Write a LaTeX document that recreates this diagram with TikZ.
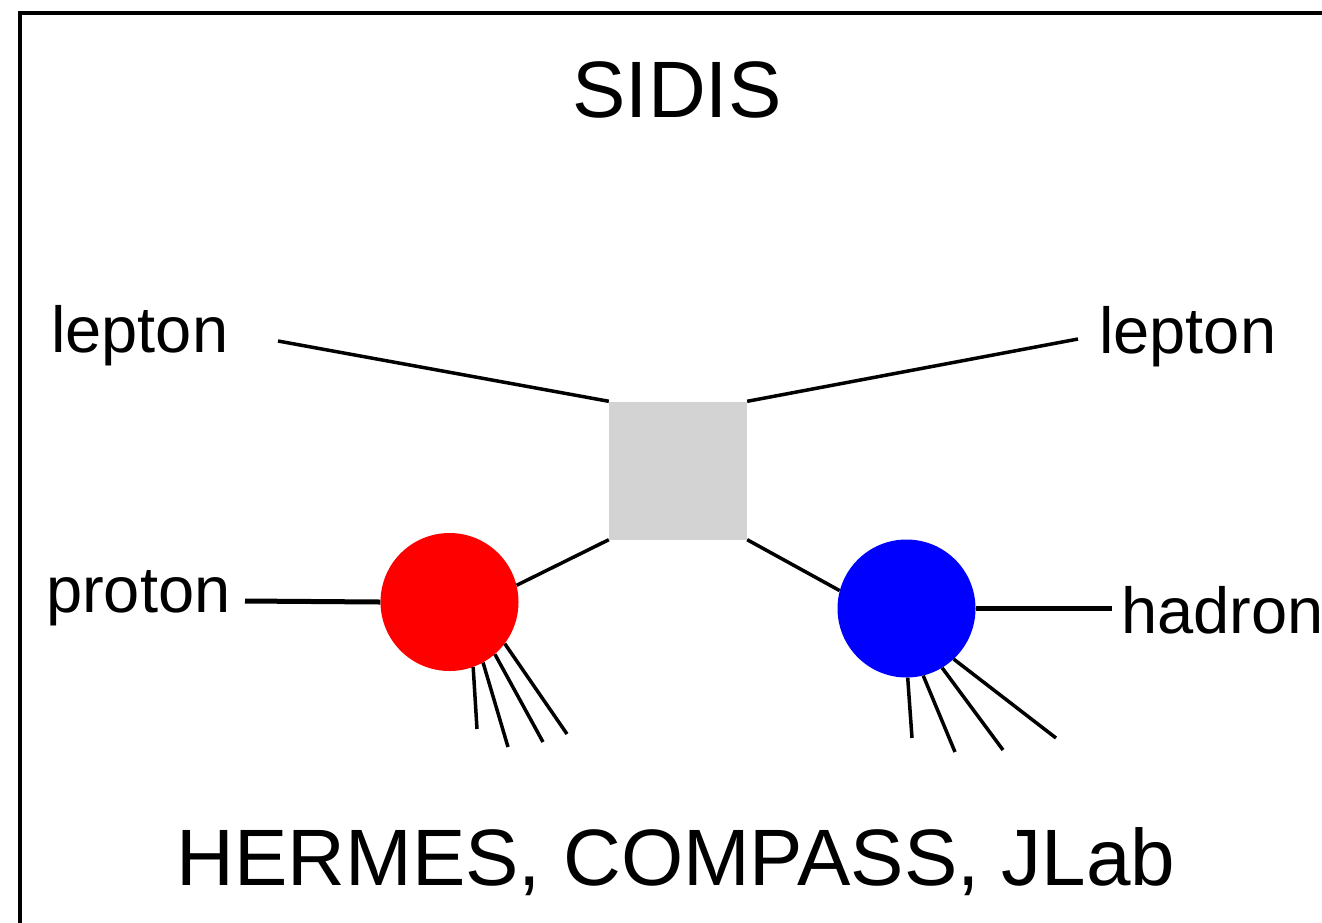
\documentclass[tikz,border=0pt]{standalone}
\usepackage{fontspec}
\setmainfont{Liberation Sans}
\definecolor{blobgray}{RGB}{211,211,211}
\begin{document}
\begin{tikzpicture}[x=1pt,y=-1pt,
  label/.style={inner sep=0pt,font=\fontsize{65}{65}\selectfont},
  title/.style={inner sep=0pt,font=\fontsize{80}{80}\selectfont},
  leg/.style={line width=3.5pt},
  beam/.style={line width=5pt},
  jet/.style={line width=3.5pt},
  vertex/.style={rectangle,fill=blobgray,inner sep=0pt,minimum size=138pt},
  hadronblob/.style={circle,inner sep=0pt,minimum size=138pt}]
\useasboundingbox (0,0) rectangle (1322,922);
\clip (0,0) rectangle (1322,922);
\fill[white] (0,0) rectangle (1322,922);
% outer frame, running past the page on the right and at the bottom
\draw[line width=4pt] (20,13) rectangle (1360,960);

% titles
\node[title,anchor=base] (t) at (677,117) {SIDIS};
\node[title,anchor=base] (exp) at (676,885) {HERMES, COMPASS, JLab};

% central vertex and the two blobs
\node[vertex] (blob) at (678,470.5) {};
\node[hadronblob,fill=red] (p) at (449.5,602) {};
\node[hadronblob,fill=blue] (h) at (906.5,608.5) {};

% external labels
\node[label,anchor=base west] (lin) at (51,352) {lepton};
\node[label,anchor=base west] (lout) at (1099,353) {lepton};
\node[label,anchor=base west] (prot) at (46,612) {proton};
\node[label,anchor=base west] (had) at (1121,633) {hadron};

% free ends of the lines
\coordinate (lin-e) at (278,341);
\coordinate (lout-e) at (1078,339);
\coordinate (prot-e) at (245,601);
\coordinate (had-e) at (1112,608.5);

\draw[leg] (lin-e) -- (blob.north west);
\draw[leg] (blob.north east) -- (lout-e);
\draw[leg] (blob.south west) -- (p.14);
\draw[leg] (blob.south east) -- (h.165);
\draw[beam] (prot-e) -- (p.west);
\draw[beam] (h.east) -- (had-e);

% fragments out of the proton
\coordinate (pj1) at (477,729);
\coordinate (pj2) at (508,747);
\coordinate (pj3) at (543,742);
\coordinate (pj4) at (567,734);
\draw[jet] (p.-70) -- (pj1);
\draw[jet] (p.-61) -- (pj2);
\draw[jet] (p.-49) -- (pj3);
\draw[jet] (p.-37) -- (pj4);

% fragments out of the hadron blob
\coordinate (hj1) at (912,738);
\coordinate (hj2) at (955,752);
\coordinate (hj3) at (1003,750);
\coordinate (hj4) at (1056,738);
\draw[jet] (h.-89) -- (hj1);
\draw[jet] (h.-76) -- (hj2);
\draw[jet] (h.-59) -- (hj3);
\draw[jet] (h.-47) -- (hj4);
\end{tikzpicture}
\end{document}
